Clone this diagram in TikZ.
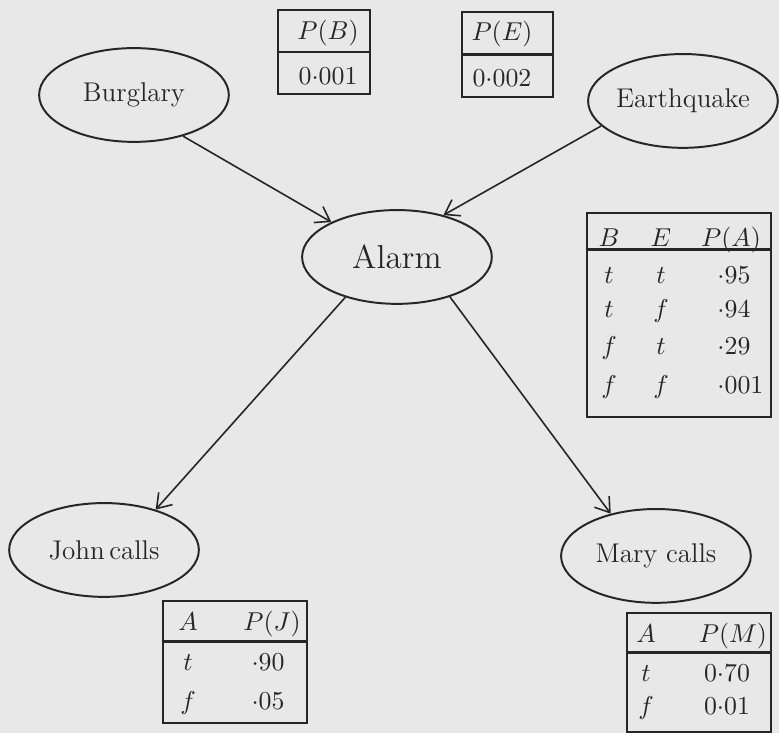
\RequirePackage{fix-cm}
\documentclass[tikz,border=0pt]{standalone}
\usepackage{amsmath,amssymb}
\usepackage{fontspec}
\usetikzlibrary{arrows.meta,shapes.geometric}
\colorlet{ink}{black!85}
\colorlet{paper}{black!9}

\begin{document}
\begin{tikzpicture}[
	var/.style={draw=ink, line width=.8pt, ellipse, minimum width=2.71cm, minimum height=1.34cm, inner sep=0pt, text=ink, font=\fontsize{11}{13}\selectfont},
	cpt/.style={draw=ink, line width=1.1pt, rectangle, inner sep=0pt},
	rule/.style={draw=ink, line width=1.1pt},
	val/.style={anchor=base, inner sep=0pt, text=ink, font=\fontsize{10.5}{12}\selectfont},
	edge/.style={-{Straight Barb[length=5.5pt,width=7.5pt]}, ink, line width=.65pt}]
			\fill[paper] (0,0) rectangle (11.129,10.471); \useasboundingbox (0,0) rectangle (11.129,10.471);
			
			% the five variables
			\node[var] (burglary) at (1.914,9.114) {Burglary};
			\node[var] (quake) at (9.757,9.029) {Earthquake};
			\node[var, font=\fontsize{13.5}{15}\selectfont] (alarm) at (5.671,6.8) {Alarm};
			\node[var] (john) at (1.486,2.614) {John\,calls};
			\node[var] (mary) at (9.371,2.529) {Mary calls};
			
			\draw[edge] (burglary.-40) -- (alarm.152);
			\draw[edge] (quake.-163) -- (alarm.42);
			\draw[edge] (alarm.-142) -- (john.38);
			\draw[edge] (alarm.-37) -- (mary.137);
			
			% priors
			\node[cpt, minimum width=1.314cm, minimum height=1.2cm] (tabB) at (4.629,9.729) {}; \draw[rule] (tabB.west) -- (tabB.east);
			\node[val] (pB) at (4.686,9.9) {$P(B)$}; \node[val] (vB) at (4.686,9.257) {$0{\cdot}001$};
			\node[cpt, minimum width=1.3cm, minimum height=1.214cm] (tabE) at (7.25,9.693) {}; \draw[rule] (tabE.west) -- (tabE.east);
			\node[val] (pE) at (7.171,9.886) {$P(E)$}; \node[val] (vE) at (7.171,9.229) {$0{\cdot}002$};
			
			% alarm table
			\node[cpt, minimum width=2.628cm, minimum height=2.915cm] (tabA) at (9.7,5.971) {};
			\draw[rule] ([yshift=-.543cm]tabA.north west) -- ([yshift=-.543cm]tabA.north east);
			\node[val] (hB) at (8.7,6.943) {$B$}; \node[val] (hE) at (9.443,6.943) {$E$}; \node[val] (hA) at (10.443,6.943) {$P(A)$};
			\foreach \b/\e/\p/\y [count=\i] in {t/t/{95}/6.421, t/f/{94}/5.929, f/t/{29}/5.4, f/f/{001}/4.85} {
				\node[val] (b\i) at (8.7,\y) {$\b$}; \node[val] (e\i) at (9.443,\y) {$\e$};
				\node[val, anchor=base west] (a\i) at (10.243,\y) {${\cdot}\p$};
			}
			
			% john and mary tables
			\node[cpt, minimum width=2.057cm, minimum height=1.743cm] (tabJ) at (3.357,1.014) {};
			\draw[rule] ([yshift=-.6cm]tabJ.north west) -- ([yshift=-.6cm]tabJ.north east);
			\node[val] (jA) at (2.686,1.457) {$A$}; \node[val] (jP) at (3.886,1.457) {$P(J)$};
			\node[val] (jt) at (2.686,.886) {$t$}; \node[val] (jv1) at (3.829,.886) {${\cdot}90$};
			\node[val] (jf) at (2.686,.329) {$f$}; \node[val] (jv2) at (3.829,.329) {${\cdot}05$};
			
			\node[cpt, minimum width=2.057cm, minimum height=1.7cm] (tabM) at (9.986,.864) {};
			\draw[rule] ([yshift=-.585cm]tabM.north west) -- ([yshift=-.585cm]tabM.north east);
			\node[val] (mA) at (9.229,1.286) {$A$}; \node[val] (mP) at (10.471,1.286) {$P(M)$};
			\node[val] (mt) at (9.229,.729) {$t$}; \node[val] (mv1) at (10.386,.729) {$0{\cdot}70$};
			\node[val] (mf) at (9.229,.257) {$f$}; \node[val] (mv2) at (10.386,.257) {$0{\cdot}01$};
			\end{tikzpicture}
\end{document}
